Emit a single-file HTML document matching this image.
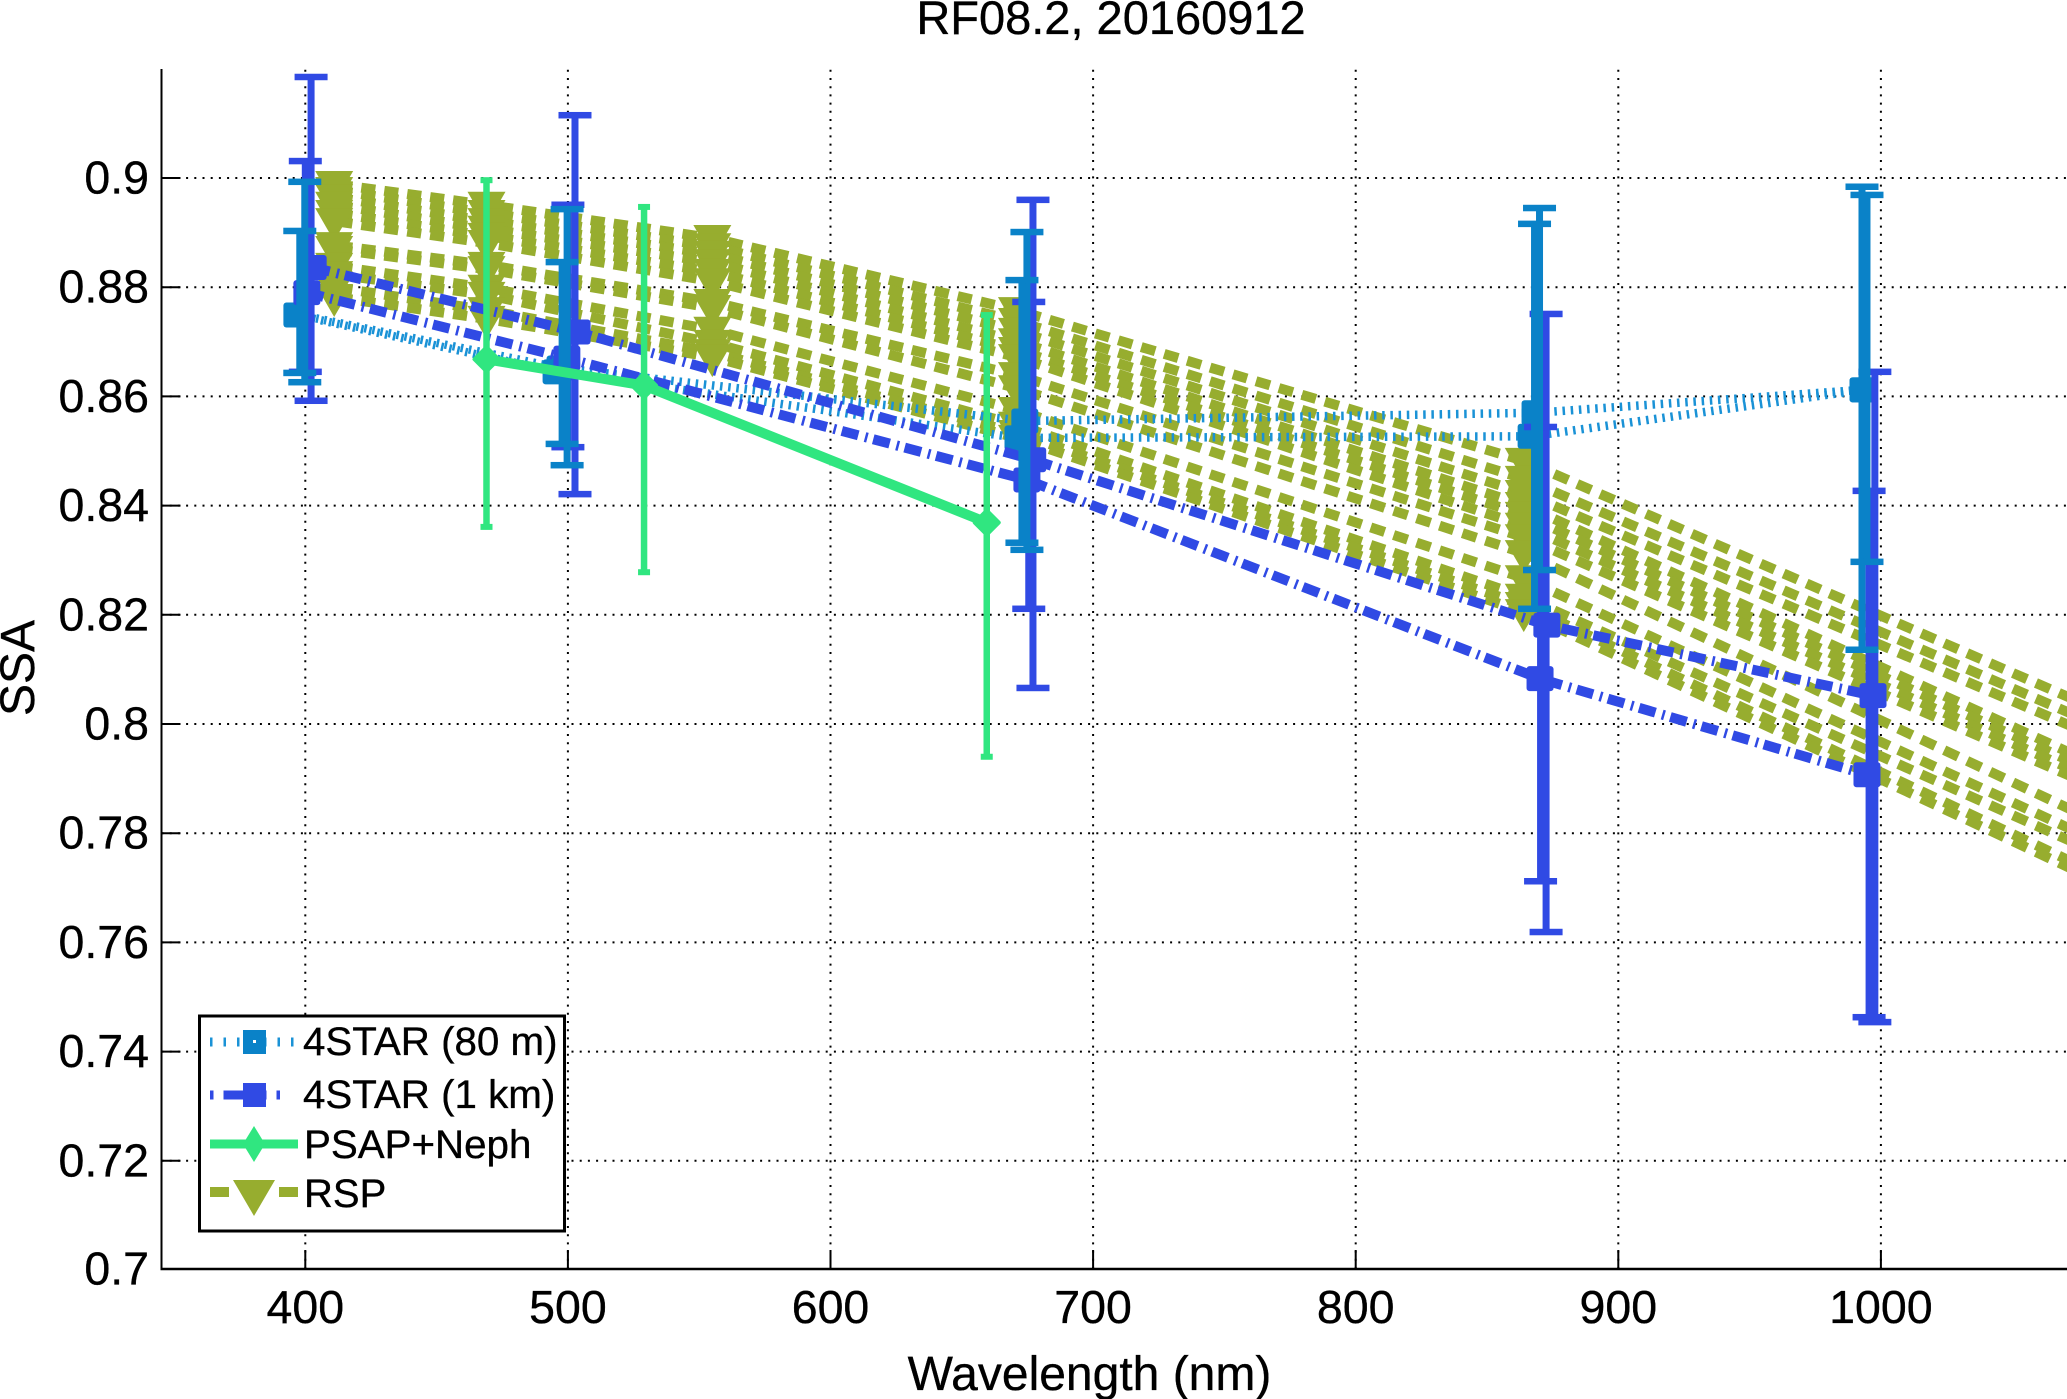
<!DOCTYPE html>
<html lang="en">
<head>
<meta charset="utf-8">
<title>RF08.2, 20160912</title>
<style>
html,body{margin:0;padding:0;background:#fff;width:2067px;height:1399px;overflow:hidden}
svg{display:block;font-family:"Liberation Sans",Arial,sans-serif;fill:#000}
svg text{stroke:#000;stroke-width:0.35px}
</style>
</head>
<body>
<svg id="chart" xmlns="http://www.w3.org/2000/svg" width="2067" height="1399" viewBox="0 0 2067 1399">
  <rect x="0" y="0" width="2067" height="1399" fill="#ffffff"/>
  <g id="grid"></g>
  <g id="marks"></g>
  <g id="axes"></g>
  <text x="1111" y="34" font-size="47" text-anchor="middle">RF08.2, 20160912</text>
  <text x="1089.5" y="1390" font-size="48" text-anchor="middle">Wavelength (nm)</text>
  <text transform="translate(34,668) rotate(-90)" font-size="48" text-anchor="middle">SSA</text>

  <g>
    <rect x="199.5" y="1016" width="365" height="215" fill="#ffffff" stroke="#000000" stroke-width="3"/>
    <g>
      <line x1="210" y1="1042" x2="298" y2="1042" stroke="#1a92d6" stroke-width="9" stroke-dasharray="2.5 11"/>
      <rect x="243" y="1030" width="23" height="24" fill="#0a82c8"/>
      <rect x="253" y="1040" width="3" height="3" fill="#ffffff"/>
      <text x="303" y="1055" font-size="40.3">4STAR (80 m)</text>
    </g>
    <g>
      <line x1="210" y1="1095" x2="298" y2="1095" stroke="#304ae4" stroke-width="9" stroke-dasharray="3.5 10 43 10 3.5 30"/>
      <rect x="243" y="1083" width="23" height="24" fill="#304ae4"/>
      <text x="303" y="1108" font-size="40.3">4STAR (1 km)</text>
    </g>
    <g>
      <line x1="210" y1="1144" x2="298" y2="1144" stroke="#30e680" stroke-width="9"/>
      <polygon points="254,1126 265,1144 254,1162 243,1144" fill="#30e680"/>
      <text x="304" y="1158" font-size="40.3">PSAP+Neph</text>
    </g>
    <g>
      <line x1="210" y1="1192" x2="298" y2="1192" stroke="#97ad2f" stroke-width="10" stroke-dasharray="19 50"/>
      <polygon points="233,1180 275,1180 254,1216" fill="#97ad2f"/>
      <text x="304" y="1207" font-size="40">RSP</text>
    </g>
  </g>
</svg>
<script>
// Axis tick labels
const xTicks = [400, 500, 600, 700, 800, 900, 1000];
const yTicks = [0.7, 0.72, 0.74, 0.76, 0.78, 0.8, 0.82, 0.84, 0.86, 0.88, 0.9];

// RSP: wavelengths (nm) and SSA of each retrieval line
const rspWavelengths = [411, 469, 555, 671, 864, 1073];
const rspSsa = [
  [0.8989, 0.8951, 0.8890, 0.8758, 0.8482, 0.8046],
  [0.8978, 0.8936, 0.8875, 0.8738, 0.8449, 0.8018],
  [0.8965, 0.8921, 0.8861, 0.8720, 0.8423, 0.7995],
  [0.8951, 0.8907, 0.8846, 0.8701, 0.8401, 0.7945],
  [0.8936, 0.8894, 0.8828, 0.8685, 0.8383, 0.7930],
  [0.8921, 0.8881, 0.8811, 0.8672, 0.8363, 0.7916],
  [0.8877, 0.8841, 0.8773, 0.8639, 0.8342, 0.7903],
  [0.8870, 0.8833, 0.8762, 0.8615, 0.8313, 0.7842],
  [0.8839, 0.8799, 0.8722, 0.8575, 0.8267, 0.7806],
  [0.8824, 0.8786, 0.8698, 0.8548, 0.8233, 0.7784],
  [0.8800, 0.8758, 0.8681, 0.8533, 0.8218, 0.7747],
  [0.8782, 0.8742, 0.8672, 0.8524, 0.8205, 0.7734]
];

// 4STAR 80 m: two profiles
const star80aNm = [398, 497, 674, 868.3, 993.2];
const star80aSsa = [0.8749, 0.8652, 0.8555, 0.8570, 0.8612];
const star80aBarNm = [399.8, 499.7, 674.8, 870, 992.8];
const star80aHi = [0.8993, 0.8943, 0.8901, 0.8945, 0.8984];
const star80aLo = [0.8626, 0.8474, 0.8319, 0.8282, 0.8136];

const star80bNm = [396.8, 495.5, 671.4, 866.8, 993.2];
const star80bSsa = [0.8749, 0.8645, 0.8524, 0.8527, 0.8612];
const star80bBarNm = [397.9, 497.8, 672.9, 868.1, 994.7];
const star80bHi = [0.8903, 0.8846, 0.8813, 0.8916, 0.8969];
const star80bLo = [0.8643, 0.8513, 0.8332, 0.8211, 0.8297];

// 4STAR 1 km: two profiles
const star1kaNm = [403, 503.5, 677, 872.8, 997];
const star1kaSsa = [0.8836, 0.8718, 0.8484, 0.8181, 0.8052];
const star1kaBarNm = [402.2, 502.7, 677.1, 872.5, 997.7];
const star1kaHi = [0.9185, 0.9115, 0.8960, 0.8751, 0.8645];
const star1kaLo = [0.8592, 0.8421, 0.8066, 0.7619, 0.7454];

const star1kbNm = [400.6, 499.6, 674.8, 870.2, 994.7];
const star1kbSsa = [0.8790, 0.8670, 0.8447, 0.8083, 0.7907];
const star1kbBarNm = [400, 500, 675.5, 870.4, 995.5];
const star1kbHi = [0.9031, 0.8951, 0.8773, 0.8544, 0.8427];
const star1kbLo = [0.8645, 0.8507, 0.8211, 0.7712, 0.7463];

// PSAP+Neph
const psapNm = [469, 529, 659.5];
const psapSsa = [0.8668, 0.8620, 0.8369];
const psapHi = [0.8996, 0.8947, 0.8749];
const psapLo = [0.8361, 0.8278, 0.7940];

const NS = 'http://www.w3.org/2000/svg';
function xScale(nm) { return 305.3 + (nm - 400) * 2.626; }
function yScale(v) { return 178 + (0.9 - v) * 5460; }
function make(tag, parent, props) {
  const el = document.createElementNS(NS, tag);
  for (const k in props) el.setAttribute(k, props[k]);
  parent.appendChild(el);
  return el;
}
function polyPoints(nms, vals) {
  return nms.map(function (n, i) { return xScale(n).toFixed(1) + ',' + yScale(vals[i]).toFixed(1); }).join(' ');
}

const gridG = document.getElementById('grid');
const axesG = document.getElementById('axes');
const marksG = document.getElementById('marks');
const AXIS_LEFT = 161.5, AXIS_BOTTOM = 1269, AXIS_TOP = 69, AXIS_RIGHT = 2067;

// grid, ticks, tick labels
xTicks.forEach(function (t) {
  const gl = make('line', gridG, { x1: xScale(t), x2: xScale(t), y1: AXIS_BOTTOM, y2: AXIS_TOP, stroke: '#000', 'stroke-width': 2, 'stroke-dasharray': '2 6.2' });
  
  
  const tk = make('line', axesG, { x1: xScale(t), x2: xScale(t), y1: AXIS_BOTTOM, y2: AXIS_BOTTOM - 19, stroke: '#000', 'stroke-width': 2 });
  
  
  const lb = make('text', axesG, { x: xScale(t), y: 1323, 'font-size': 46.5, 'text-anchor': 'middle' });
  
  
  lb.textContent = String(t);
});
yTicks.forEach(function (t) {
  const py = t === 0.7 ? AXIS_BOTTOM : yScale(t);
  const gl = make('line', gridG, { x1: AXIS_LEFT, x2: AXIS_RIGHT, y1: py, y2: py, stroke: '#000', 'stroke-width': 2, 'stroke-dasharray': '2 6.2' });
  
  
  const tk = make('line', axesG, { x1: AXIS_LEFT, x2: AXIS_LEFT + 19, y1: py, y2: py, stroke: '#000', 'stroke-width': 2 });
  
  
  const lb = make('text', axesG, { x: 149, y: py + 15.5, 'font-size': 46.5, 'text-anchor': 'end' });
  
  
  lb.textContent = String(t);
});
const xAxis = make('line', axesG, { x1: AXIS_LEFT - 1, x2: AXIS_RIGHT, y1: AXIS_BOTTOM, y2: AXIS_BOTTOM, stroke: '#000', 'stroke-width': 2.4 });


const yAxis = make('line', axesG, { x1: AXIS_LEFT, x2: AXIS_LEFT, y1: AXIS_TOP, y2: AXIS_BOTTOM, stroke: '#000', 'stroke-width': 2 });



// RSP dashed lines with triangle markers.
// Dashes are measured along x (pathLength = horizontal run) so they stack into
// aligned columns, as in the reference.
const RSP_COLOR = '#97ad2f';
const RSP_DASH = 14, RSP_GAP = 8.94, RSP_DASH_ORIGIN = 361.3;
rspSsa.forEach(function (vals) {
  for (let i = 0; i < vals.length - 1; i++) {
    const x0 = xScale(rspWavelengths[i]), x1 = xScale(rspWavelengths[i + 1]);
    const period = RSP_DASH + RSP_GAP;
    const phase = (((x0 - RSP_DASH_ORIGIN) % period) + period) % period;
    const seg = make('path', marksG, {
      d: 'M' + x0.toFixed(1) + ' ' + yScale(vals[i]).toFixed(1) + 'L' + x1.toFixed(1) + ' ' + yScale(vals[i + 1]).toFixed(1),
      pathLength: (x1 - x0).toFixed(2),
      fill: 'none', stroke: RSP_COLOR, 'stroke-width': 10,
      'stroke-dasharray': RSP_DASH + ' ' + RSP_GAP,
      'stroke-dashoffset': phase.toFixed(2)
    });
    
    
  }
  vals.forEach(function (v, i) {
    if (rspWavelengths[i] > 900) return;
    const cx = xScale(rspWavelengths[i]), cy = yScale(v);
    const tri = make('polygon', marksG, { points: (cx - 19) + ',' + (cy - 13) + ' ' + (cx + 19) + ',' + (cy - 13) + ' ' + cx + ',' + (cy + 20), fill: RSP_COLOR });
    
    
  });
});

// error bar drawing shared by 4STAR and PSAP
function errorBars(nms, hi, lo, color, lineW, capW, capH, name) {
  nms.forEach(function (n, i) {
    const cx = xScale(n), yh = yScale(hi[i]), yl = yScale(lo[i]);
    const stem = make('line', marksG, { x1: cx, x2: cx, y1: yh, y2: yl, stroke: color, 'stroke-width': lineW });
    
    
    const capTop = make('rect', marksG, { x: cx - capW / 2, y: yh - capH / 2, width: capW, height: capH, fill: color });
    
    
    const capBot = make('rect', marksG, { x: cx - capW / 2, y: yl - capH / 2, width: capW, height: capH, fill: color });
    
    
  });
}
function squareMarkers(nms, vals, color, name) {
  nms.forEach(function (n, i) {
    const cx = xScale(n), cy = yScale(vals[i]);
    const sq = make('rect', marksG, { x: cx - 13.5, y: cy - 12.5, width: 27, height: 25, rx: 3, fill: color });
    
    
  });
}

// 4STAR 80 m lines and markers sit beneath the 1 km series
const C_80M = '#0a82c8';
const DOTTED = '2.5 5.7';
const mLineA = make('polyline', marksG, { points: polyPoints(star80aNm, star80aSsa), fill: 'none', stroke: '#1a92d6', 'stroke-width': 8.5, 'stroke-dasharray': DOTTED });


const mLineB = make('polyline', marksG, { points: polyPoints(star80bNm, star80bSsa), fill: 'none', stroke: '#1a92d6', 'stroke-width': 8.5, 'stroke-dasharray': DOTTED });


squareMarkers(star80aNm, star80aSsa, C_80M, '4star-80m-upper');
squareMarkers(star80bNm, star80bSsa, C_80M, '4star-80m-lower');

// 4STAR 1 km
const C_1KM = '#304ae4';
const DASHDOT = '17 7 2.5 6';
const kmLineA = make('polyline', marksG, { points: polyPoints(star1kaNm, star1kaSsa), fill: 'none', stroke: C_1KM, 'stroke-width': 10, 'stroke-dasharray': DASHDOT });


const kmLineB = make('polyline', marksG, { points: polyPoints(star1kbNm, star1kbSsa), fill: 'none', stroke: C_1KM, 'stroke-width': 10, 'stroke-dasharray': DASHDOT });


errorBars(star1kaBarNm, star1kaHi, star1kaLo, C_1KM, 7, 33, 6.5, '4star-1km-upper');
errorBars(star1kbBarNm, star1kbHi, star1kbLo, C_1KM, 7, 33, 6.5, '4star-1km-lower');
squareMarkers(star1kaNm, star1kaSsa, C_1KM, '4star-1km-upper');
squareMarkers(star1kbNm, star1kbSsa, C_1KM, '4star-1km-lower');

// 4STAR 80 m error bars sit on top of the 1 km series
errorBars(star80aBarNm, star80aHi, star80aLo, C_80M, 7, 33, 6.5, '4star-80m-upper');
errorBars(star80bBarNm, star80bHi, star80bLo, C_80M, 7, 33, 6.5, '4star-80m-lower');

// PSAP+Neph
const C_PSAP = '#30e680';
const psapLine = make('polyline', marksG, { points: polyPoints(psapNm, psapSsa), fill: 'none', stroke: C_PSAP, 'stroke-width': 10 });


errorBars(psapNm, psapHi, psapLo, C_PSAP, 6.5, 12, 6, 'psap-neph');
psapNm.forEach(function (n, i) {
  const cx = xScale(n), cy = yScale(psapSsa[i]);
  const d = make('polygon', marksG, { points: cx + ',' + (cy - 12) + ' ' + (cx + 12) + ',' + cy + ' ' + cx + ',' + (cy + 12) + ' ' + (cx - 12) + ',' + cy, fill: C_PSAP, stroke: C_PSAP, 'stroke-width': 4, 'stroke-linejoin': 'round' });
  
  
});
</script>
</body>
</html>
